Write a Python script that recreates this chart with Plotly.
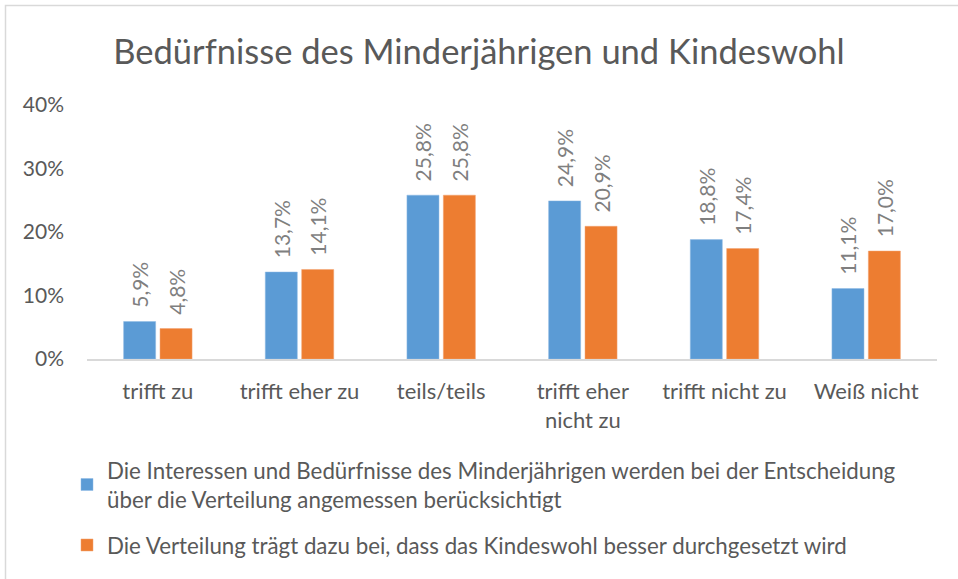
import plotly.graph_objects as go

categories = ["trifft zu", "trifft eher zu", "teils/teils", "trifft eher<br>nicht zu", "trifft nicht zu", "Weiß nicht"]
series1_name = "Die Interessen und Bedürfnisse des Minderjährigen werden bei der Entscheidung<br>über die Verteilung angemessen berücksichtigt"
series2_name = "Die Verteilung trägt dazu bei, dass das Kindeswohl besser durchgesetzt wird"
series1 = [5.9, 13.7, 25.8, 24.9, 18.8, 11.1]
series2 = [4.8, 14.1, 25.8, 20.9, 17.4, 17.0]
ytick_vals = [0, 10, 20, 30, 40]
ytick_text = ["0%", "10%", "20%", "30%", "40%"]

FONT = "Lato, 'Open Sans', sans-serif"
PAD = "\u00a0" * 2

def lab(v):
    return PAD + f"{v:.1f}".replace(".", ",") + "%"

fig = go.Figure()
fig.add_trace(go.Bar(x=categories, y=series1, name=series1_name, legendgroup="g1",
                     marker=dict(color="#5B9BD5", line=dict(color="#8fbbe5", width=0.5)),
                     text=[lab(v) for v in series1], textposition="outside",
                     textangle=-90, cliponaxis=False, constraintext="none",
                     textfont=dict(family=FONT, size=21, color="#7f7f7f")))
fig.add_trace(go.Bar(x=categories, y=series2, name=series2_name, legendgroup="g2",
                     marker=dict(color="#ED7D31", line=dict(color="#f2a371", width=0.5)),
                     text=[lab(v) for v in series2], textposition="outside",
                     textangle=-90, cliponaxis=False, constraintext="none",
                     textfont=dict(family=FONT, size=21, color="#7f7f7f")))

fig.update_layout(
    width=958, height=579,
    margin=dict(l=87, r=21, t=105, b=220, autoexpand=False),
    paper_bgcolor="white", plot_bgcolor="white",
    barmode="group", bargap=0.486, bargroupgap=0.12,
    title=dict(text="Bedürfnisse des Minderjährigen und Kindeswohl",
               x=0.5, xanchor="center", xref="container",
               y=1 - 52 / 579, yanchor="middle", yref="container",
               font=dict(family=FONT, size=34.5, color="#595959")),
    font=dict(family=FONT, color="#595959"),
    showlegend=True,
    legend=dict(orientation="v", xref="container", yref="container",
                x=67 / 958, xanchor="left",
                y=1 - 449 / 579, yanchor="top",
                font=dict(family=FONT, size=22.3, color="#595959"),
                tracegroupgap=14, itemwidth=30, bgcolor="rgba(0,0,0,0)"),
    shapes=[dict(type="rect", xref="paper", yref="paper",
                 x0=(5.5 - 87) / 850, x1=1.2, y0=-1.2, y1=(359 - 5.5) / 254,
                 line=dict(color="#d9d9d9", width=1.5), layer="below")],
)
fig.update_xaxes(showline=True, linecolor="#d9d9d9", linewidth=1.5,
                 showgrid=False, ticks="", ticklabelstandoff=12,
                 tickfont=dict(family=FONT, size=22, color="#595959"))
fig.update_yaxes(range=[0, 40], tickvals=ytick_vals, ticktext=ytick_text,
                 showgrid=False, zeroline=False, showline=False, ticks="",
                 ticklabelstandoff=22,
                 tickfont=dict(family=FONT, size=21, color="#595959"))

fig.write_html("out.html", config={"displayModeBar": False},
               post_script="document.body.style.margin='0';document.body.style.overflow='hidden';")
